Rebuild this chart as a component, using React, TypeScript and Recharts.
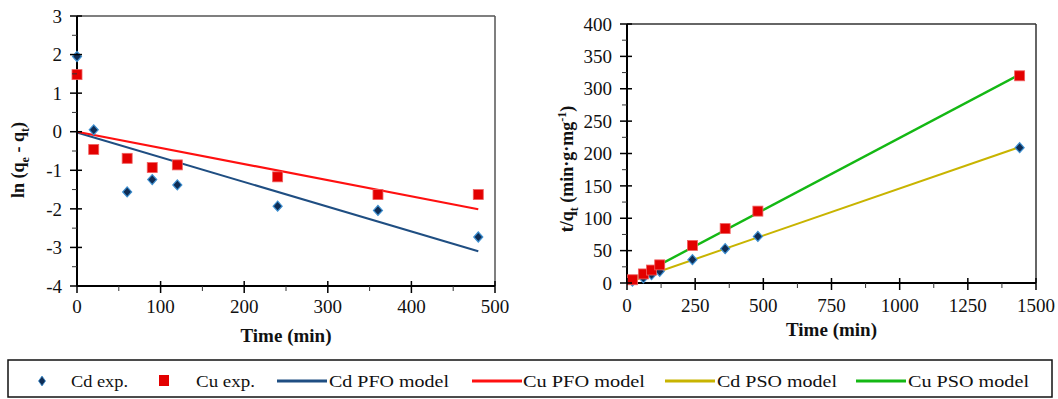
import { ComposedChart, Scatter, Line, XAxis, YAxis, ReferenceLine } from "recharts";

// left panel: pseudo-first-order, ln(qe - qt) vs time
const timeLeft = [0, 20, 60, 90, 120, 240, 360, 480];
const cdLn = [1.95, 0.05, -1.56, -1.24, -1.38, -1.93, -2.04, -2.73];
const cuLn = [1.48, -0.46, -0.69, -0.93, -0.86, -1.17, -1.63, -1.63];
const timePfo = [0, 480];
const cdPfo = [-0.02, -3.1];
const cuPfo = [0, -2.01];

// right panel: pseudo-second-order, t/qt vs time
const timeRight = [20, 60, 90, 120, 240, 360, 480, 1440];
const cdT = [3, 8, 13, 18, 36, 53, 72, 209];
const cuT = [5, 14, 20, 28, 58, 84, 111, 320];
const timePso = [20, 1440];
const cdPso = [3.5, 210];
const cuPso = [6, 322];

const leftYTicks = [-4, -3.5, -3, -2.5, -2, -1.5, -1, -0.5, 0, 0.5, 1, 1.5, 2, 2.5, 3];
const leftXTicks = [0, 50, 100, 150, 200, 250, 300, 350, 400, 450, 500];
const rightYTicks = [0, 25, 50, 75, 100, 125, 150, 175, 200, 225, 250, 275, 300, 325, 350, 375, 400];
const rightXTicks = [0, 125, 250, 375, 500, 625, 750, 875, 1000, 1125, 1250, 1375, 1500];

const legendNames = ["Cd exp.", "Cu exp.", "Cd PFO model", "Cu PFO model", "Cd PSO model", "Cu PSO model"];

const FONT = "Liberation Serif, Times New Roman, DejaVu Serif, serif";
const TXT = { fontFamily: FONT };
const CD_DOT = "#0f2d55";
const CD_EDGE = "#3d8fd0";
const CU_DOT = "#e30000";
const C_CD_PFO = "#1f4e82";
const C_CU_PFO = "#ff1010";
const C_CD_PSO = "#c8b400";
const C_CU_PSO = "#14b814";

const pts = (xs: number[], ys: number[]) => xs.map((x, i) => ({ x, y: ys[i] }));

const Diamond = (p: any) => (
  <path
    d={`M${p.cx},${p.cy - 5} L${p.cx + 4.5},${p.cy} L${p.cx},${p.cy + 5} L${p.cx - 4.5},${p.cy} Z`}
    fill={CD_DOT}
    stroke={CD_EDGE}
    strokeWidth={1.2}
  />
);

const Square = (p: any) => (
  <rect x={p.cx - 5} y={p.cy - 5} width={10} height={10} fill={CU_DOT} stroke="#f06060" strokeWidth={0.8} />
);

const yTick = (step: number) => (p: any) => {
  const v = p.payload.value;
  const major = Math.abs(v / step - Math.round(v / step)) < 1e-6;
  return (
    <g>
      {major ? (
        <>
          <line x1={p.x - 7} x2={p.x + 5} y1={p.y} y2={p.y} stroke="#000" strokeWidth={1.5} />
          <text x={p.x - 15} y={p.y} dy="0.35em" textAnchor="end" fontSize={19} style={TXT} fill="#111">
            {v}
          </text>
        </>
      ) : (
        <line x1={p.x - 5} x2={p.x} y1={p.y} y2={p.y} stroke="#333" strokeWidth={1} />
      )}
    </g>
  );
};

const xTick = (step: number, off: number) => (p: any) => {
  const v = p.payload.value;
  const major = Math.abs(v / step - Math.round(v / step)) < 1e-6;
  return (
    <g>
      {major ? (
        <>
          <line x1={p.x} x2={p.x} y1={p.y - 5} y2={p.y + 7} stroke="#000" strokeWidth={1.5} />
          <text x={p.x} y={p.y + off} textAnchor="middle" fontSize={19} style={TXT} fill="#111">
            {v}
          </text>
        </>
      ) : (
        <line x1={p.x} x2={p.x} y1={p.y} y2={p.y + 5} stroke="#333" strokeWidth={1} />
      )}
    </g>
  );
};

const timeLabel = (dy: number) => (p: any) => {
  const vb = p.viewBox;
  return (
    <text x={vb.x + vb.width / 2} y={vb.y + dy} textAnchor="middle" fontSize={19} fontWeight="bold" style={TXT} fill="#111">
      Time (min)
    </text>
  );
};

function LeftChart() {
  return (
    <ComposedChart width={520} height={350} margin={{ top: 16, right: 25, left: 0, bottom: 0 }}>
      <XAxis
        dataKey="x"
        type="number"
        domain={[0, 500]}
        ticks={leftXTicks}
        interval={0}
        height={64}
        tickSize={0}
        tickMargin={0}
        tickLine={false}
        axisLine={{ stroke: "#000", strokeWidth: 2 }}
        tick={xTick(100, 27)}
        label={{ content: timeLabel(56) }}
      />
      <YAxis
        dataKey="y"
        type="number"
        domain={[-4, 3]}
        ticks={leftYTicks}
        interval={0}
        width={77}
        tickSize={0}
        tickMargin={0}
        tickLine={false}
        axisLine={{ stroke: "#000", strokeWidth: 2 }}
        tick={yTick(1)}
      />
      <ReferenceLine y={3} stroke="#555" strokeWidth={1.5} />
      <ReferenceLine x={500} stroke="#555" strokeWidth={1.5} />
      <Line data={pts(timePfo, cdPfo)} dataKey="y" stroke={C_CD_PFO} strokeWidth={2} dot={false} isAnimationActive={false} />
      <Line data={pts(timePfo, cuPfo)} dataKey="y" stroke={C_CU_PFO} strokeWidth={2.2} dot={false} isAnimationActive={false} />
      <Scatter data={pts(timeLeft, cuLn)} dataKey="y" shape={Square} isAnimationActive={false} />
      <Scatter data={pts(timeLeft, cdLn)} dataKey="y" shape={Diamond} isAnimationActive={false} />
    </ComposedChart>
  );
}

function RightChart() {
  return (
    <ComposedChart width={518} height={350} margin={{ top: 24, right: 22, left: 0, bottom: 0 }}>
      <XAxis
        dataKey="x"
        type="number"
        domain={[0, 1500]}
        ticks={rightXTicks}
        interval={0}
        height={67}
        tickSize={0}
        tickMargin={0}
        tickLine={false}
        axisLine={{ stroke: "#000", strokeWidth: 2 }}
        tick={xTick(250, 29)}
        label={{ content: timeLabel(53) }}
      />
      <YAxis
        dataKey="y"
        type="number"
        domain={[0, 400]}
        ticks={rightYTicks}
        interval={0}
        width={87}
        tickSize={0}
        tickMargin={0}
        tickLine={false}
        axisLine={{ stroke: "#000", strokeWidth: 2 }}
        tick={yTick(50)}
      />
      <ReferenceLine y={400} stroke="#333" strokeWidth={1.5} />
      <ReferenceLine x={1500} stroke="#333" strokeWidth={1.5} />
      <Line data={pts(timePso, cdPso)} dataKey="y" stroke={C_CD_PSO} strokeWidth={2} dot={false} isAnimationActive={false} />
      <Line data={pts(timePso, cuPso)} dataKey="y" stroke={C_CU_PSO} strokeWidth={2.4} dot={false} isAnimationActive={false} />
      <Scatter data={pts(timeRight, cdT)} dataKey="y" shape={Diamond} isAnimationActive={false} />
      <Scatter data={pts(timeRight, cuT)} dataKey="y" shape={Square} isAnimationActive={false} />
    </ComposedChart>
  );
}

function Legend() {
  const items = [
    { kind: "diamond", color: CD_DOT, icon: 42, tx: 71, tw: 57 },
    { kind: "square", color: CU_DOT, icon: 164, tx: 196, tw: 59 },
    { kind: "line", color: C_CD_PFO, icon: 277, tx: 329, tw: 120 },
    { kind: "line", color: C_CU_PFO, icon: 472, tx: 523, tw: 122 },
    { kind: "line", color: C_CD_PSO, icon: 665, tx: 717, tw: 120 },
    { kind: "line", color: C_CU_PSO, icon: 856, tx: 908, tw: 121 },
  ];
  const cy = 23;
  return (
    <svg width={1058} height={40} style={{ position: "absolute", left: 0, top: 358 }}>
      <rect x={8} y={2} width={1044} height={37} fill="#fff" stroke="#111" strokeWidth={1.5} />
      {items.map((it, i) => (
        <g key={legendNames[i]}>
          {it.kind === "diamond" && (
            <path d={`M${it.icon},${cy - 5} L${it.icon + 3.5},${cy} L${it.icon},${cy + 5} L${it.icon - 3.5},${cy} Z`} fill={it.color} stroke={CD_EDGE} strokeWidth={0.8} />
          )}
          {it.kind === "square" && <rect x={it.icon - 5} y={cy - 6} width={10} height={11} fill={it.color} />}
          {it.kind === "line" && <line x1={it.icon} x2={it.icon + 50} y1={cy} y2={cy} stroke={it.color} strokeWidth={3} />}
          <text
            x={it.tx}
            y={cy + 6}
            fontSize={17}
            style={TXT}
            fill="#111"
            textLength={it.tw}
            lengthAdjust="spacingAndGlyphs"
          >
            {legendNames[i]}
          </text>
        </g>
      ))}
    </svg>
  );
}

export default function App() {
  return (
    <div style={{ position: "absolute", left: 0, top: 0, width: 1058, height: 399, background: "#fff", fontFamily: FONT }}>
      <div style={{ position: "absolute", left: 0, top: 0 }}>
        <LeftChart />
      </div>
      <div style={{ position: "absolute", left: 540, top: 0 }}>
        <RightChart />
      </div>
      <svg width={60} height={350} style={{ position: "absolute", left: 0, top: 0 }}>
        <text transform="translate(24,160) rotate(-90)" textAnchor="middle" fontSize={18} fontWeight="bold" style={TXT} fill="#111">
          ln (q<tspan fontSize={12} dy={5}>e</tspan>
          <tspan dy={-5}> - q</tspan>
          <tspan fontSize={12} dy={5}>t</tspan>
          <tspan dy={-5}>)</tspan>
        </text>
      </svg>
      <svg width={60} height={350} style={{ position: "absolute", left: 540, top: 0 }}>
        <text transform="translate(33,169) rotate(-90)" textAnchor="middle" fontSize={18} fontWeight="bold" style={TXT} fill="#111">
          t/q<tspan fontSize={12} dy={5}>t</tspan>
          <tspan dy={-5}> (min·g·mg</tspan>
          <tspan fontSize={12} dy={-7}>-1</tspan>
          <tspan dy={7}>)</tspan>
        </text>
      </svg>
      <Legend />
    </div>
  );
}
